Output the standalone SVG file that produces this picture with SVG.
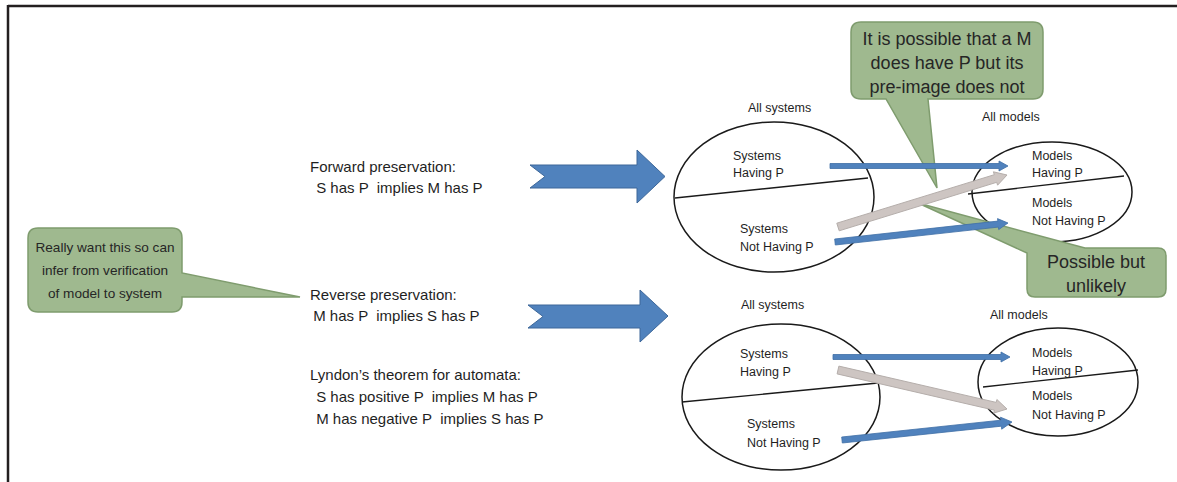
<svg xmlns="http://www.w3.org/2000/svg" width="1177" height="482" viewBox="0 0 1177 482">
<style>
text{font-family:"Liberation Sans",Arial,sans-serif;fill:#1f1f1f}
.lbl{font-size:12.5px}
.main{font-size:15px;white-space:pre}
.call{font-size:18px;text-anchor:middle;fill:#262626}
.callS{font-size:13.6px;text-anchor:middle;fill:#262626}
.ell{fill:none;stroke:#1a1a1a;stroke-width:1.5}
.div{stroke:#1a1a1a;stroke-width:1.3}
.callout{fill:#9fb98f;stroke:#7f9c6e;stroke-width:1.5}
.big{fill:#5082bd;stroke:#3d6799;stroke-width:1}
.blue{fill:#5082bd;stroke:#3f6ea6;stroke-width:0.8}
.gray{fill:#cdc5c2;stroke:#b5aeab;stroke-width:1}
</style>
<g id="frame">
<line x1="8" y1="6" x2="1177" y2="6" stroke="#231f20" stroke-width="2.5"/>
<line x1="8" y1="5" x2="8" y2="482" stroke="#231f20" stroke-width="2.5"/>
</g>
<g id="left-text">
<text class="main" x="310" y="172">Forward preservation:</text>
<text class="main" x="312" y="193" xml:space="preserve"> S has P  implies M has P</text>
<text class="main" x="310" y="300">Reverse preservation:</text>
<text class="main" x="309" y="321" xml:space="preserve"> M has P  implies S has P</text>
<text class="main" x="310" y="380">Lyndon’s theorem for automata:</text>
<text class="main" x="312" y="402" xml:space="preserve"> S has positive P  implies M has P</text>
<text class="main" x="312" y="424" xml:space="preserve"> M has negative P  implies S has P</text>
</g>
<g id="callout-left">
<path class="callout" d="M38,228 H172 Q182,228 182,238 V273 L300,297 L182,297 V302 Q182,312 172,312 H38 Q28,312 28,302 V238 Q28,228 38,228 Z"/>
<text class="callS" x="105" y="252">Really want this so can</text>
<text class="callS" x="105" y="275">infer from verification</text>
<text class="callS" x="105" y="298">of model to system</text>
</g>
<g id="top-systems">
<text class="lbl" x="748" y="112">All systems</text>
<ellipse class="ell" cx="774" cy="197" rx="100" ry="75"/>
<line class="div" x1="675" y1="198" x2="868" y2="178"/>
<text class="lbl" x="733" y="160">Systems</text>
<text class="lbl" x="733" y="177">Having P</text>
<text class="lbl" x="740" y="233">Systems</text>
<text class="lbl" x="740" y="251">Not Having P</text>
</g>
<g id="top-models">
<text class="lbl" x="982" y="121">All models</text>
<ellipse class="ell" cx="1052" cy="192" rx="80" ry="50"/>
<line class="div" x1="968" y1="194" x2="1124" y2="176"/>
<text class="lbl" x="1032" y="160">Models</text>
<text class="lbl" x="1032" y="177">Having P</text>
<text class="lbl" x="1032" y="207">Models</text>
<text class="lbl" x="1032" y="225">Not Having P</text>
</g>
<g id="bottom-systems">
<text class="lbl" x="741" y="309">All systems</text>
<ellipse class="ell" cx="781" cy="397" rx="99" ry="73"/>
<line class="div" x1="682" y1="402" x2="878" y2="383"/>
<text class="lbl" x="740" y="358">Systems</text>
<text class="lbl" x="740" y="376">Having P</text>
<text class="lbl" x="747" y="428">Systems</text>
<text class="lbl" x="747" y="447">Not Having P</text>
</g>
<g id="bottom-models">
<text class="lbl" x="990" y="319">All models</text>
<ellipse class="ell" cx="1058" cy="382" rx="80" ry="54"/>
<line class="div" x1="983" y1="387" x2="1138" y2="370"/>
<text class="lbl" x="1032" y="357">Models</text>
<text class="lbl" x="1032" y="375">Having P</text>
<text class="lbl" x="1032" y="400">Models</text>
<text class="lbl" x="1032" y="419">Not Having P</text>
</g>
<g id="callout-top">
<path class="callout" d="M861,22 H1033 Q1043,22 1043,32 V89 Q1043,99 1033,99 H928 L937,188 L886,99 H861 Q851,99 851,89 V32 Q851,22 861,22 Z"/>
<text class="call" x="947" y="45">It is possible that a M</text>
<text class="call" x="947" y="69">does have P but its</text>
<text class="call" x="947" y="93">pre-image does not</text>
</g>
<g id="callout-right">
<path class="callout" d="M1085,248 H1158 Q1166,248 1166,256 V289 Q1166,297 1158,297 H1035 Q1027,297 1027,289 V253 L918,203 Z"/>
<text class="call" x="1096" y="268">Possible but</text>
<text class="call" x="1096" y="292">unlikely</text>
</g>
<g id="connectors">
<polygon class="big" points="530,165 637,165 637,150 665,176.5 637,203 637,188 530,188 545,176.5"/>
<polygon class="big" points="528,305 640,305 640,290 668,316 640,342 640,328 528,328 543,316.5"/>
<polygon class="blue" points="830,163.5 999,163.5 999,161 1008,166 999,171 999,168.5 830,168.5"/>
<polygon class="gray" points="839.2,230.8 996.7,182.3 997.6,185.2 1007,175 993.4,171.8 994.3,174.7 836.8,223.2"/>
<polygon class="blue" points="835.3,245 998.4,227.1 998.7,229.6 1008,223 997.5,218.6 997.8,221.1 834.7,239"/>
<polygon class="blue" points="833,354.5 1001,354.5 1001,352 1010,357 1001,362 1001,359.5 833,359.5"/>
<polygon class="gray" points="838.9,366.1 996.2,402.4 996.9,399.5 1007,409 993.7,413.1 994.4,410.2 837.1,373.9"/>
<polygon class="blue" points="842.3,443 1001.4,426.2 1001.7,429.2 1012,422 1000.5,417.2 1000.8,420.2 841.7,437"/>
</g>
</svg>
